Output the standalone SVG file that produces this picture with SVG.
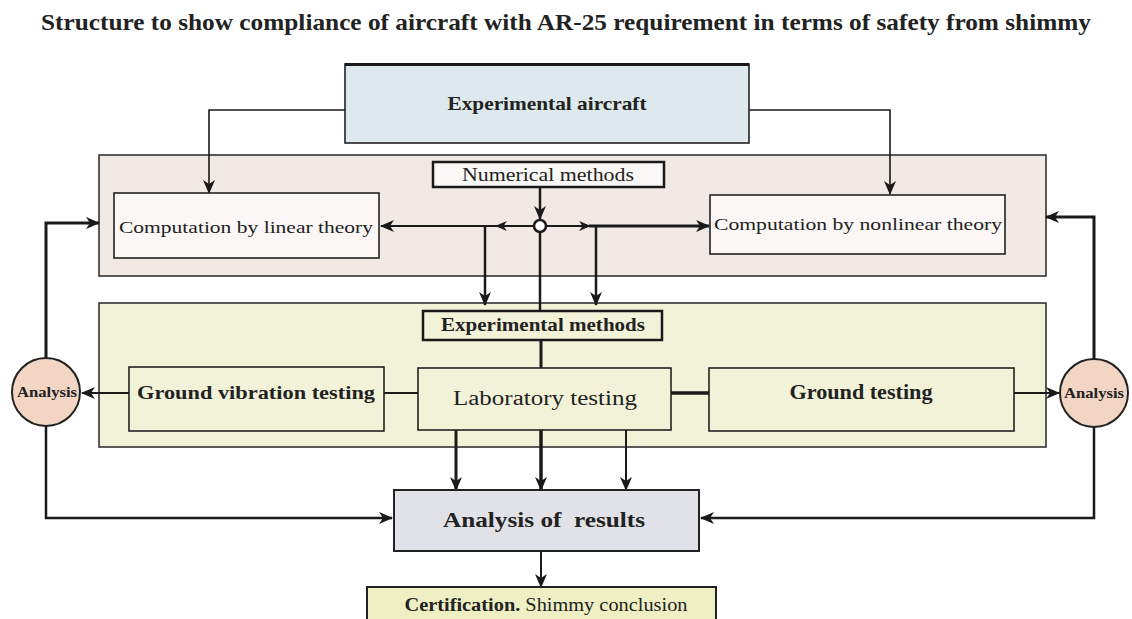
<svg xmlns="http://www.w3.org/2000/svg" width="1132" height="619" viewBox="0 0 1132 619">
<style>
.t{font-family:"Liberation Serif","Times New Roman",serif;fill:#222;}
.b{font-weight:bold;}
.box{stroke:#222;stroke-width:1.6;}
.c{fill:none;stroke:#1a1a1a;}
</style>
<defs>
<marker id="ah" markerUnits="userSpaceOnUse" markerWidth="14" markerHeight="12" viewBox="0 0 14 12" refX="13" refY="6" orient="auto">
<path d="M0,0 L14,6 L0,12 L4,6 z" fill="#1a1a1a"/>
</marker>
<marker id="ahs" markerUnits="userSpaceOnUse" markerWidth="12" markerHeight="10" viewBox="0 0 14 12" refX="13" refY="6" orient="auto">
<path d="M0,0 L14,6 L0,12 L4,6 z" fill="#1a1a1a"/>
</marker>
</defs>
<rect width="1132" height="619" fill="#ffffff"/>
<text class="t b" x="566" y="30" font-size="23" text-anchor="middle" textLength="1050" lengthAdjust="spacingAndGlyphs" fill="#333">Structure to show compliance of aircraft with AR-25 requirement in terms of safety from shimmy</text>

<g id="numerical-region">
<rect x="99" y="155" width="947" height="121" fill="#f1e9e6" stroke="#333" stroke-width="1.6"/>
</g>
<g id="experimental-region">
<rect x="99" y="303" width="947" height="144" fill="#f2f2d8" stroke="#333" stroke-width="1.6"/>
</g>

<g id="connectors">
<path class="c" stroke-width="1.6" d="M345,110 H209 V193" marker-end="url(#ah)"/>
<path class="c" stroke-width="1.6" d="M749,110 H890 V194" marker-end="url(#ah)"/>
<path class="c" stroke-width="2.5" d="M540,187 V219" marker-end="url(#ah)"/>
<path class="c" stroke-width="2" d="M534,226 H496" marker-end="url(#ahs)"/>
<path class="c" stroke-width="2" d="M497,226 H381" marker-end="url(#ah)"/>
<path class="c" stroke-width="2" d="M546,226 H590" marker-end="url(#ahs)"/>
<path class="c" stroke-width="3" d="M589,226 H709" marker-end="url(#ah)"/>
<path class="c" stroke-width="2.5" d="M485,226 V305" marker-end="url(#ah)"/>
<path class="c" stroke-width="2.5" d="M596,226 V305" marker-end="url(#ah)"/>
<path class="c" stroke-width="2.5" d="M540,232 V311"/>
<path class="c" stroke-width="3" d="M541,340 V368"/>
<path class="c" stroke-width="2" d="M384,393 H418"/>
<path class="c" stroke-width="3.5" d="M671,393 H709"/>
<path class="c" stroke-width="2" d="M129,393 H82" marker-end="url(#ah)"/>
<path class="c" stroke-width="2" d="M1014,393 H1059" marker-end="url(#ah)"/>
<path class="c" stroke-width="3" d="M46,358 V223 H99" marker-end="url(#ah)"/>
<path class="c" stroke-width="3" d="M1094,359 V217 H1046" marker-end="url(#ah)"/>
<path class="c" stroke-width="2.5" d="M46,426 V518 H392" marker-end="url(#ah)"/>
<path class="c" stroke-width="2.5" d="M1094,427 V518 H701" marker-end="url(#ah)"/>
<path class="c" stroke-width="3" d="M456,430 V490" marker-end="url(#ah)"/>
<path class="c" stroke-width="3.5" d="M541,430 V490" marker-end="url(#ah)"/>
<path class="c" stroke-width="2" d="M626,430 V490" marker-end="url(#ah)"/>
<path class="c" stroke-width="2" d="M541,551 V587" marker-end="url(#ah)"/>
<circle cx="540" cy="226" r="6" fill="#ffffff" stroke="#1a1a1a" stroke-width="2.5"/>
</g>

<g id="experimental-aircraft">
<rect class="box" x="345" y="64" width="404" height="79" fill="#dde9ec" stroke-width="2"/>
<line x1="345" y1="64.5" x2="749" y2="64.5" stroke="#1a1a1a" stroke-width="3"/>
<text class="t b" x="547" y="110" font-size="19" text-anchor="middle" textLength="199" lengthAdjust="spacingAndGlyphs">Experimental aircraft</text>
</g>

<g id="numerical-methods">
<rect x="433" y="162" width="231" height="25" fill="#faf8f7" stroke="#1a1a1a" stroke-width="2.5"/>
<text class="t" x="548" y="181" font-size="18" text-anchor="middle" textLength="172" lengthAdjust="spacingAndGlyphs">Numerical methods</text>
</g>

<g id="linear-theory">
<rect class="box" x="114" y="193" width="265" height="65" fill="#faf7f6"/>
<text class="t" x="246" y="233" font-size="17" text-anchor="middle" textLength="254" lengthAdjust="spacingAndGlyphs">Computation by linear theory</text>
</g>

<g id="nonlinear-theory">
<rect class="box" x="710" y="195" width="295" height="59" fill="#faf7f6"/>
<text class="t" x="858" y="230" font-size="17" text-anchor="middle" textLength="288" lengthAdjust="spacingAndGlyphs">Computation by nonlinear theory</text>
</g>

<g id="experimental-methods">
<rect x="423" y="311" width="239" height="29" fill="#f2f2d8" stroke="#1a1a1a" stroke-width="2.5"/>
<text class="t b" x="543" y="331" font-size="19" text-anchor="middle" textLength="204" lengthAdjust="spacingAndGlyphs">Experimental methods</text>
</g>

<g id="ground-vibration-testing">
<rect class="box" x="129" y="367" width="255" height="64" fill="#f2f2d8"/>
<text class="t b" x="256" y="399" font-size="19" text-anchor="middle" textLength="238" lengthAdjust="spacingAndGlyphs">Ground vibration testing</text>
</g>

<g id="laboratory-testing">
<rect class="box" x="418" y="368" width="253" height="62" fill="#f2f2d8"/>
<text class="t" x="545" y="405" font-size="20" text-anchor="middle" textLength="184" lengthAdjust="spacingAndGlyphs">Laboratory testing</text>
</g>

<g id="ground-testing">
<rect class="box" x="709" y="368" width="305" height="63" fill="#f2f2d8"/>
<text class="t b" x="861" y="399" font-size="20" text-anchor="middle" textLength="143" lengthAdjust="spacingAndGlyphs">Ground testing</text>
</g>

<g id="analysis-left">
<circle cx="46" cy="392" r="34" fill="#f3d5c3" stroke="#222" stroke-width="2"/>
<text class="t b" x="47" y="397" font-size="14" text-anchor="middle" textLength="60" lengthAdjust="spacingAndGlyphs">Analysis</text>
</g>

<g id="analysis-right">
<circle cx="1094" cy="393" r="34" fill="#f3d5c3" stroke="#222" stroke-width="2"/>
<text class="t b" x="1094" y="398" font-size="14" text-anchor="middle" textLength="60" lengthAdjust="spacingAndGlyphs">Analysis</text>
</g>

<g id="analysis-of-results">
<rect x="394" y="490" width="305" height="61" fill="#e1e2e7" stroke="#222" stroke-width="2"/>
<text class="t b" x="544" y="527" font-size="22" text-anchor="middle" textLength="202" lengthAdjust="spacingAndGlyphs" xml:space="preserve">Analysis of  results</text>
</g>

<g id="certification">
<rect x="367" y="587" width="349" height="40" fill="#eef0c4" stroke="#222" stroke-width="2"/>
<text class="t" x="546" y="611" font-size="18" text-anchor="middle" textLength="283" lengthAdjust="spacingAndGlyphs"><tspan class="b">Certification.</tspan> Shimmy conclusion</text>
</g>
</svg>
